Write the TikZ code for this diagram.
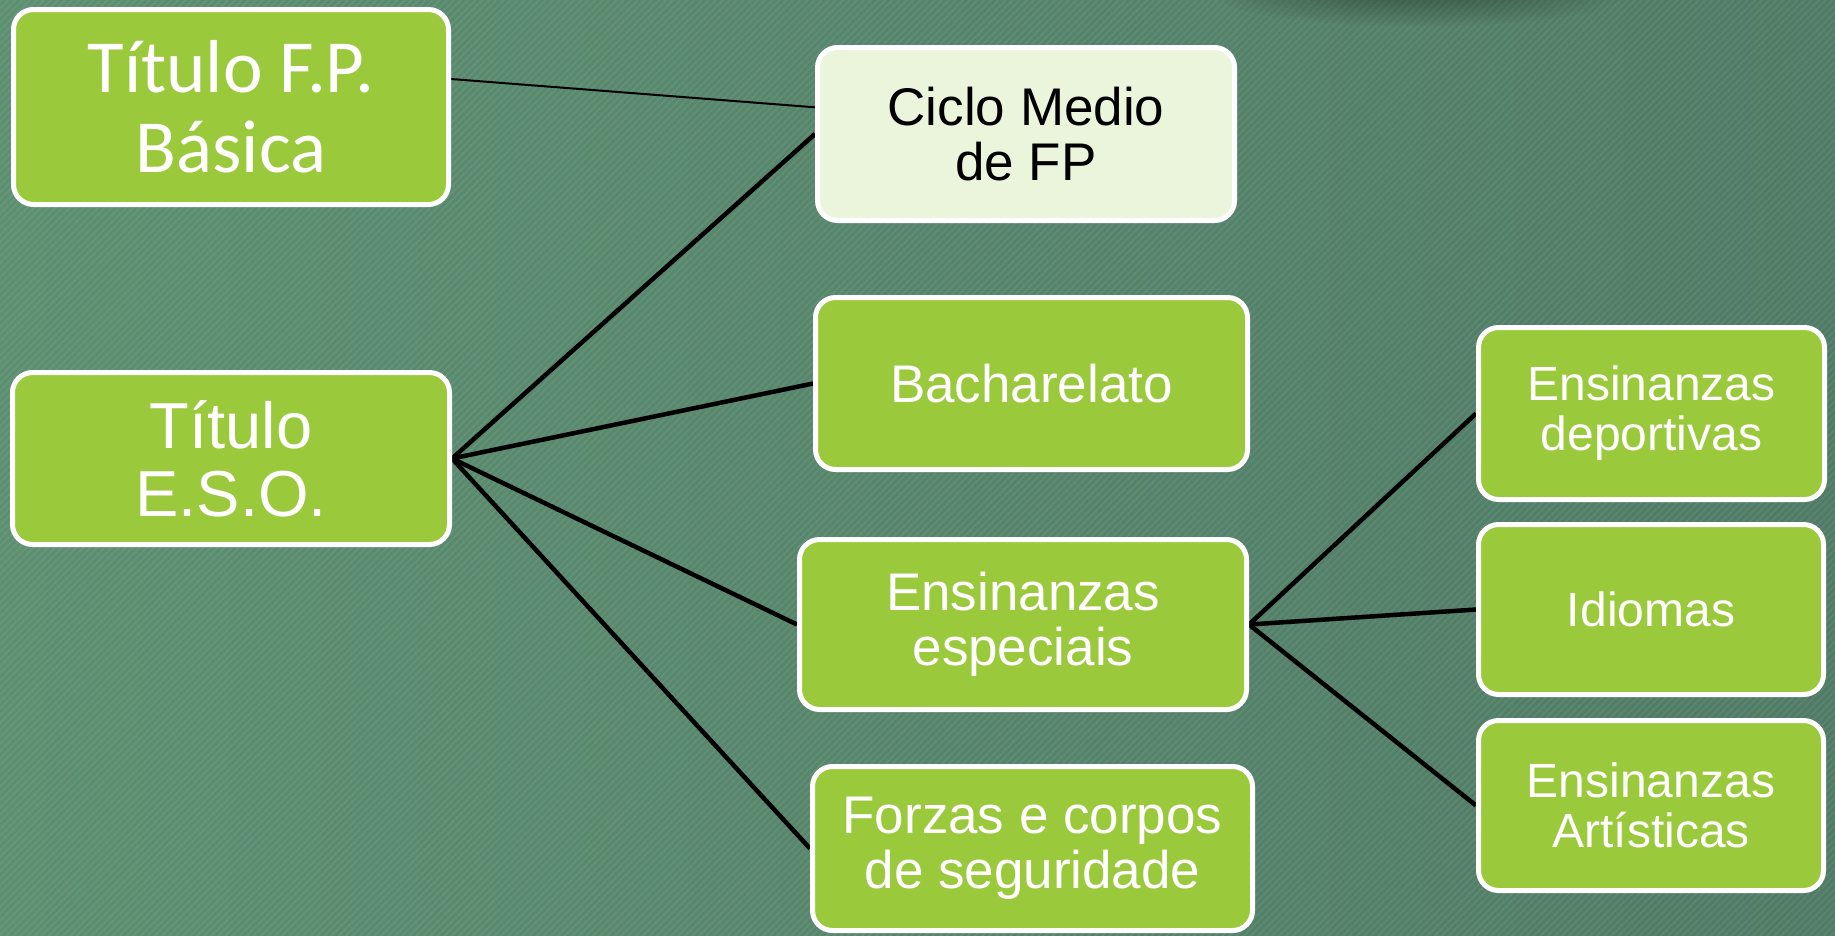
\documentclass[tikz,border=0pt]{standalone}
\usepackage{fontspec}
\setmainfont{Liberation Sans}
\newfontfamily\calib{Carlito}
\usetikzlibrary{calc,patterns.meta}
\pgfdeclarelayer{bg}
\pgfdeclarelayer{lines}
\pgfsetlayers{bg,lines,main}
\definecolor{bgL}{HTML}{5D8F71}
\definecolor{bgR}{HTML}{507B66}
\definecolor{boxg}{HTML}{9ACA3C}
\definecolor{boxl}{HTML}{EBF5DC}
\tikzset{
  box/.style={draw=white, line width=5pt, rounded corners=20pt, fill=boxg, text=white, align=center, inner sep=0pt},
  lightbox/.style={box, fill=boxl, text=black},
  midfont/.style={font=\fontsize{53}{55}\selectfont},
  rightfont/.style={font=\fontsize{48}{50}\selectfont},
  conn/.style={draw=black, line width=4.5pt},
  thinconn/.style={draw=black, line width=2pt},
}
\begin{document}
\begin{tikzpicture}[x=1pt,y=-1pt]
\useasboundingbox (0,0) rectangle (1835,935);
\begin{pgfonlayer}{bg}
  \fill[left color=bgL, right color=bgR] (0,0) rectangle (1835,935);
  \fill[pattern={Lines[angle=45,distance=5pt,line width=1.6pt]}, pattern color=white, opacity=0.07] (0,0) rectangle (1835,935);
  \foreach \k in {1,...,10}{
    \fill[black, opacity=0.025] (1420,-4) ellipse [x radius={60+14*\k}, y radius={4+2.6*\k}];
  }
\end{pgfonlayer}

\node[box, font=\calib\fontsize{75}{80}\selectfont, minimum width=435pt, minimum height=195pt] (fp) at (231,107) {Título F.P.\\Básica};
\node[lightbox, midfont, minimum width=417pt, minimum height=173pt] (ciclo) at (1026,134) {Ciclo Medio\\de FP};
\node[box, font=\fontsize{65}{68}\selectfont, minimum width=437pt, minimum height=172pt] (eso) at (231,458.5) {Título\\E.S.O.};
\node[box, midfont, minimum width=432pt, minimum height=172pt] (bach) at (1031.5,383.5) {Bacharelato};
\node[box, midfont, minimum width=447pt, minimum height=170pt] (esp) at (1023,624.5) {Ensinanzas\\especiais};
\node[box, midfont, minimum width=440pt, minimum height=164pt] (forzas) at (1032.5,848.5) {Forzas e corpos\\de seguridade};
\node[box, rightfont, minimum width=346pt, minimum height=172pt] (dep) at (1651.5,413.5) {Ensinanzas\\deportivas};
\node[box, rightfont, minimum width=345pt, minimum height=170pt] (idi) at (1651,609.5) {Idiomas};
\node[box, rightfont, minimum width=345pt, minimum height=170pt] (art) at (1651,805.5) {Ensinanzas\\Artísticas};

\begin{pgfonlayer}{lines}
  \draw[thinconn] ($(fp.north east)!0.36!(fp.south east)$) -- ($(ciclo.north west)!0.35!(ciclo.south west)$);
  \draw[conn] (eso.east) -- (ciclo.west);
  \draw[conn] (eso.east) -- (bach.west);
  \draw[conn] (eso.east) -- (esp.west);
  \draw[conn] (eso.east) -- (forzas.west);
  \draw[conn] (esp.east) -- (dep.west);
  \draw[conn] (esp.east) -- (idi.west);
  \draw[conn] (esp.east) -- (art.west);
\end{pgfonlayer}
\end{tikzpicture}
\end{document}
